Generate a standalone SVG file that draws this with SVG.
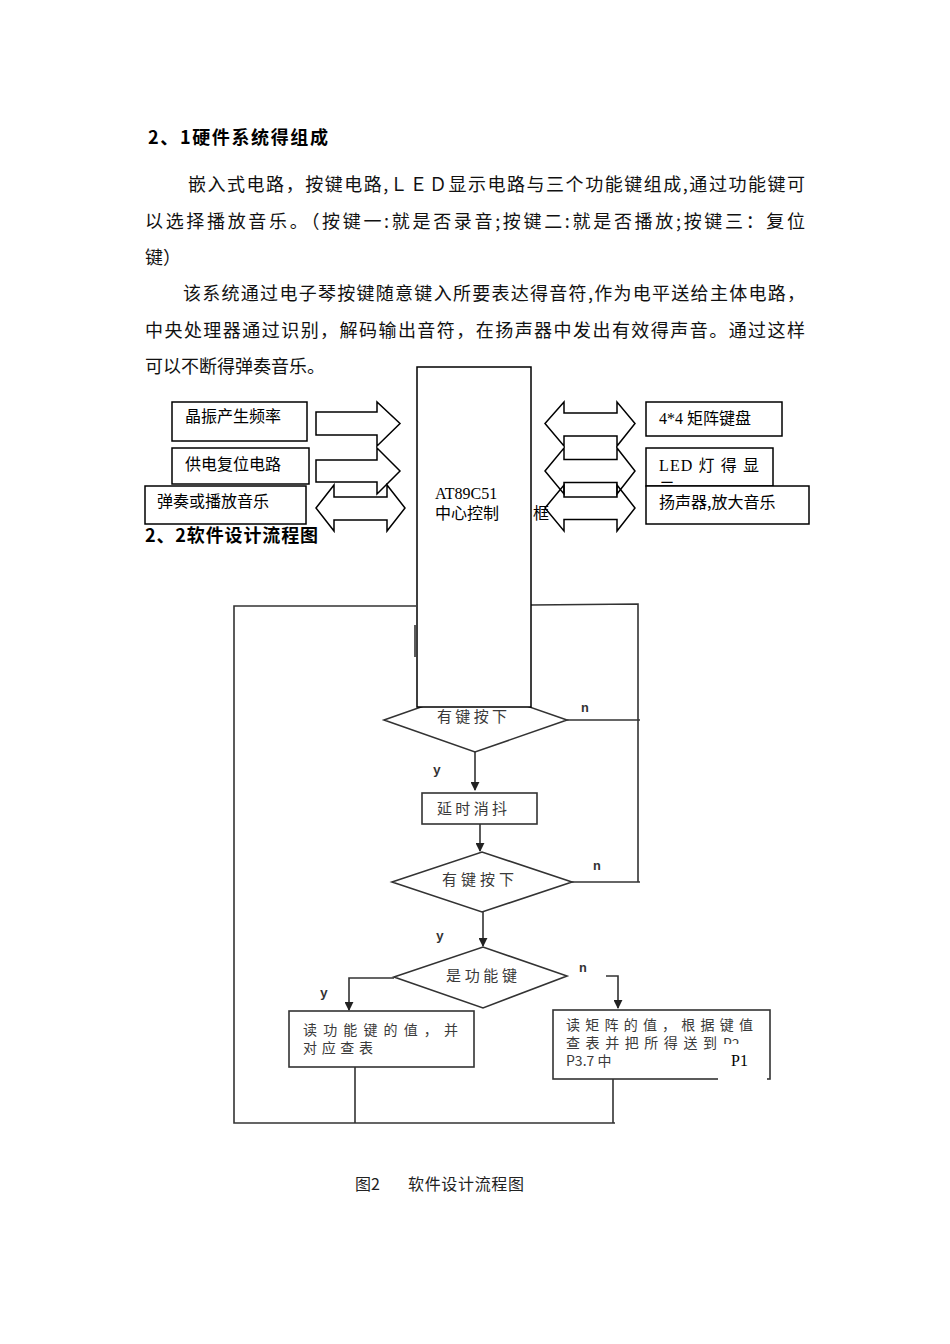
<svg xmlns="http://www.w3.org/2000/svg" width="950" height="1344" viewBox="0 0 950 1344">
<style>
.para{font-family:"Noto Sans CJK SC","Noto Sans",sans-serif;font-size:18px;fill:#111}
.head{font-family:"Noto Sans CJK SC","Noto Sans",sans-serif;font-size:18px;font-weight:bold;fill:#000}
.blk{font-family:"Liberation Serif","Noto Sans CJK SC",serif;font-size:16px;fill:#000}
.blkc{font-family:"Noto Sans CJK SC",sans-serif;font-size:16px;fill:#000}
.box{fill:#fff;stroke:#000;stroke-width:1.5}
.arw{fill:none;stroke:#000;stroke-width:1.5}
.fc{font-family:"Noto Sans CJK SC",sans-serif;font-size:15px;fill:#3a3a3a}
.fs{font-family:"Noto Sans CJK SC",sans-serif;font-size:14px;fill:#3a3a3a}
.lbl{font-family:"Liberation Mono",monospace;font-size:13px;font-weight:bold;fill:#333}
.fbox{fill:#fff;stroke:#333;stroke-width:1.6}
.ln{fill:none;stroke:#333;stroke-width:1.6}
.cap{font-family:"Noto Sans CJK SC",sans-serif;font-size:16px;fill:#222}
</style>
<defs>
<marker id="ah" viewBox="0 0 10 10" refX="9" refY="5" markerWidth="9" markerHeight="9" markerUnits="userSpaceOnUse" orient="auto">
<path d="M0,0 L10,5 L0,10 z" fill="#222"/>
</marker>
<clipPath id="ledclip"><rect x="646" y="448" width="127" height="38"/></clipPath>
<clipPath id="p2clip"><rect x="700" y="1030" width="60" height="14"/></clipPath>
</defs>
<rect width="950" height="1344" fill="#fff"/>

<g id="text-section">
<text class="head" x="148" y="144" textLength="180" lengthAdjust="spacing">2、1硬件系统得组成</text>
<text class="para" x="188" y="191" textLength="617" lengthAdjust="spacing">嵌入式电路，按键电路,ＬＥＤ显示电路与三个功能键组成,通过功能键可</text>
<text class="para" x="145" y="228" textLength="660" lengthAdjust="spacing">以选择播放音乐。（按键一:就是否录音;按键二:就是否播放;按键三：复位</text>
<text class="para" x="145" y="264">键）</text>
<text class="para" x="183" y="300" textLength="622" lengthAdjust="spacing">该系统通过电子琴按键随意键入所要表达得音符,作为电平送给主体电路，</text>
<text class="para" x="145" y="337" textLength="660" lengthAdjust="spacing">中央处理器通过识别，解码输出音符，在扬声器中发出有效得声音。通过这样</text>
<text class="para" x="145" y="373">可以不断得弹奏音乐。</text>
<text class="head" x="145" y="542" textLength="173" lengthAdjust="spacing">2、2软件设计流程图</text>
</g>

<g id="flow-connectors">
<polyline class="ln" points="416,606 234,606 234,1123 615,1123"/>
<polyline class="ln" points="531,605 638,604 638,882"/>
<line class="ln" x1="415" y1="625" x2="415" y2="657"/>
<line class="ln" x1="567" y1="720" x2="640" y2="720"/>
<line class="ln" x1="572" y1="882" x2="640" y2="882"/>
<line class="ln" x1="475" y1="752" x2="475" y2="790" marker-end="url(#ah)"/>
<line class="ln" x1="480" y1="824" x2="480" y2="851" marker-end="url(#ah)"/>
<line class="ln" x1="483" y1="912" x2="483" y2="946" marker-end="url(#ah)"/>
<polyline class="ln" points="394,978 349,978 349,1010" marker-end="url(#ah)"/>
<polyline class="ln" points="606,976 618,976 618,1008" marker-end="url(#ah)"/>
<line class="ln" x1="355" y1="1067" x2="355" y2="1123"/>
<line class="ln" x1="613" y1="1079" x2="613" y2="1123"/>
<text class="lbl" x="581" y="712">n</text>
<text class="lbl" x="433" y="774">y</text>
<text class="lbl" x="593" y="870">n</text>
<text class="lbl" x="436" y="940">y</text>
<text class="lbl" x="579" y="972">n</text>
<text class="lbl" x="320" y="997">y</text>
</g>

<g id="d1">
<polygon class="fbox" points="384,720 475,688 567,720 475,752"/>
<text class="fc" x="437" y="722" textLength="70" lengthAdjust="spacing">有键按下</text>
</g>

<g id="block-arrows">
<polygon class="arw" points="316,412 377,412 377,402 400,423.5 377,446 377,435 316,435"/>
<polygon class="arw" points="316,460 377,460 377,448 400,471 377,494 377,482 316,482"/>
<polygon class="arw" points="316,508 334,485 334,497 387,497 387,485 405,508 387,531 387,520 334,520 334,531"/>
<polygon class="arw" points="545,423.5 564,402 564,413 617,413 617,402 635,423.5 617,446 617,436 564,436 564,446"/>
<polygon class="arw" points="545,471 564,448 564,459.5 617,459.5 617,448 635,471 617,494 617,482.5 564,482.5 564,494"/>
<polygon class="arw" points="545,508 564,485 564,497 617,497 617,485 635,508 617,531 617,519.5 564,519.5 564,531"/>
</g>

<g id="cpu">
<rect class="box" x="417" y="367" width="114" height="340"/>
<text class="blk" x="435" y="499" font-size="15">AT89C51</text>
<text class="blkc" x="435" y="519" font-size="15">中心控制<tspan x="533">框</tspan></text>
</g>

<g id="b-osc">
<rect class="box" x="172" y="402" width="135" height="39"/>
<text class="blkc" x="185" y="422">晶振产生频率</text>
</g>
<g id="b-rst">
<rect class="box" x="172" y="448" width="137" height="36"/>
<text class="blkc" x="185" y="470">供电复位电路</text>
</g>
<g id="b-play">
<rect class="box" x="145" y="486" width="161" height="38"/>
<text class="blkc" x="157" y="507">弹奏或播放音乐</text>
</g>
<g id="b-kbd">
<rect class="box" x="646" y="402" width="136" height="34"/>
<text class="blk" x="659" y="424">4*4 矩阵键盘</text>
</g>
<g id="b-led">
<rect class="box" x="646" y="448" width="127" height="38"/>
<text class="blk" x="659" y="471" textLength="100" lengthAdjust="spacing">LED 灯 得 显</text>
<text class="blkc" x="659" y="494" clip-path="url(#ledclip)">示</text>
</g>
<g id="b-spk">
<rect class="box" x="646" y="486" width="163" height="38"/>
<text class="blkc" x="659" y="508">扬声器,放大音乐</text>
</g>

<g id="p-delay">
<rect class="fbox" x="422" y="793" width="115" height="31"/>
<text class="fc" x="437" y="814" textLength="70" lengthAdjust="spacing">延时消抖</text>
</g>
<g id="d2">
<polygon class="fbox" points="392,882 482,852 572,882 482,912"/>
<text class="fc" x="442" y="885" textLength="72" lengthAdjust="spacing">有键按下</text>
</g>
<g id="d3">
<polygon class="fbox" points="394,977 483,947 567,976 483,1008"/>
<text class="fc" x="446" y="981" textLength="71" lengthAdjust="spacing">是功能键</text>
</g>
<g id="p-func">
<rect class="fbox" x="289" y="1011" width="185" height="56"/>
<text class="fs" x="303" y="1035" textLength="155" lengthAdjust="spacing">读功能键的值，并</text>
<text class="fs" x="303" y="1053" textLength="70" lengthAdjust="spacing">对应查表</text>
</g>
<g id="p-matrix">
<rect class="fbox" x="553" y="1010" width="217" height="69"/>
<text class="fs" x="566" y="1030" textLength="187" lengthAdjust="spacing">读矩阵的值，根据键值</text>
<text class="fs" x="566" y="1048" textLength="151" lengthAdjust="spacing">查表并把所得送到</text>
<text class="fs" x="723" y="1049" clip-path="url(#p2clip)">P2</text>
<text class="fs" x="566" y="1066">P3.7 中</text>
<rect x="718" y="1044" width="49" height="39" fill="#fff"/>
<text class="blk" x="731" y="1066" font-size="14">P1</text>
</g>

<g id="caption">
<text class="cap" x="355" y="1190">图2</text>
<text class="cap" x="408" y="1190" textLength="116" lengthAdjust="spacing">软件设计流程图</text>
</g>
</svg>
